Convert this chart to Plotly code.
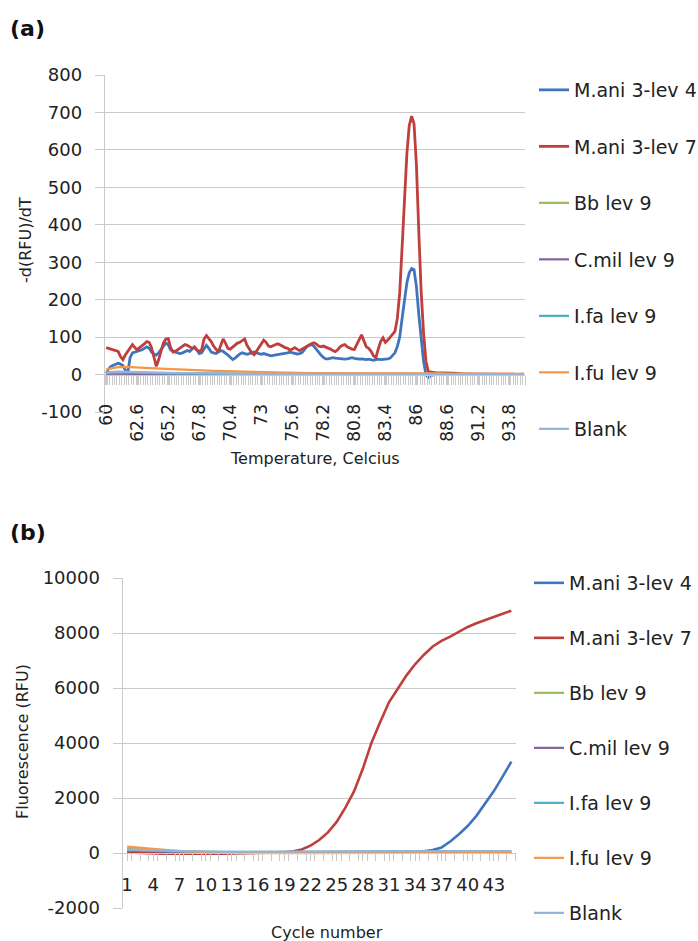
import plotly.graph_objects as go

# ---------------- data: panel (a) melt curves ----------------
temps = [
    60.0, 60.2, 60.4, 60.6, 60.8, 61.0, 61.2, 61.4, 61.6, 61.8, 62.0, 62.2, 62.4, 62.6, 62.8, 63.0, 63.2, 63.4, 63.6, 63.8, 64.0, 64.2, 64.4, 64.6, 64.8,
    65.0, 65.2, 65.4, 65.6, 65.8, 66.0, 66.2, 66.4, 66.6, 66.8, 67.0, 67.2, 67.4, 67.6, 67.8, 68.0, 68.2, 68.4, 68.6, 68.8, 69.0, 69.2, 69.4, 69.6, 69.8,
    70.0, 70.2, 70.4, 70.6, 70.8, 71.0, 71.2, 71.4, 71.6, 71.8, 72.0, 72.2, 72.4, 72.6, 72.8, 73.0, 73.2, 73.4, 73.6, 73.8, 74.0, 74.2, 74.4, 74.6, 74.8,
    75.0, 75.2, 75.4, 75.6, 75.8, 76.0, 76.2, 76.4, 76.6, 76.8, 77.0, 77.2, 77.4, 77.6, 77.8, 78.0, 78.2, 78.4, 78.6, 78.8, 79.0, 79.2, 79.4, 79.6, 79.8,
    80.0, 80.2, 80.4, 80.6, 80.8, 81.0, 81.2, 81.4, 81.6, 81.8, 82.0, 82.2, 82.4, 82.6, 82.8, 83.0, 83.2, 83.4, 83.6, 83.8, 84.0, 84.2, 84.4, 84.6, 84.8,
    85.0, 85.2, 85.4, 85.6, 85.8, 86.0, 86.2, 86.4, 86.6, 86.8, 87.0, 87.2, 87.4, 87.6, 87.8, 88.0, 88.2, 88.4, 88.6, 88.8, 89.0, 89.2, 89.4, 89.6, 89.8,
    90.0, 90.2, 90.4, 90.6, 90.8, 91.0, 91.2, 91.4, 91.6, 91.8, 92.0, 92.2, 92.4, 92.6, 92.8, 93.0, 93.2, 93.4, 93.6, 93.8, 94.0, 94.2, 94.4, 94.6, 94.8,
    95.0,
]

mani4_melt = [
    3, 15, 22, 25, 28, 30, 28, 24, 12, 3,
    45, 58, 60, 62, 62, 66, 70, 74, 70, 60,
    55, 52, 58, 68, 76, 84, 80, 66, 62, 60,
    58, 56, 58, 62, 64, 62, 68, 74, 66, 56,
    58, 68, 78, 70, 60, 58, 56, 60, 64, 62,
    58, 52, 46, 40, 44, 50, 55, 58, 56, 54,
    56, 58, 60, 58, 55, 54, 56, 54, 52, 50,
    51, 52, 54, 55, 56, 55, 58, 60, 58, 56,
    55, 56, 58, 66, 74, 78, 80, 76, 68, 58,
    52, 46, 42, 42, 44, 45, 44, 43, 42, 42,
    41, 42, 44, 45, 43, 42, 41, 42, 40, 40,
    41, 39, 38, 40, 41, 40, 40, 40, 42, 44,
    50, 58, 75, 100, 150, 200, 245, 272, 283, 280,
    235, 160, 90, 35, 0, -8, -3, 0, 1, 1,
    1, 1, 1, 0, 1, 1, 1, 1, 0, 0,
    1, 1, 0, 0, 1, 1, 0, 0, 0, 1,
    0, 0, 1, 1, 0, 0, 0, 0, 0, 0,
    0, 0, 0, 0, 0, 0,
]

mani7_melt = [
    72, 70, 68, 66, 66, 62, 48, 40, 52, 62,
    72, 80, 72, 66, 72, 76, 82, 88, 86, 72,
    48, 22, 40, 62, 85, 95, 96, 72, 60, 62,
    66, 72, 74, 80, 78, 75, 70, 72, 65, 62,
    66, 95, 104, 96, 88, 76, 68, 60, 78, 95,
    84, 70, 68, 74, 80, 84, 86, 90, 95, 78,
    66, 58, 53, 62, 72, 82, 92, 86, 76, 74,
    78, 80, 82, 78, 74, 72, 70, 65, 68, 72,
    68, 64, 68, 72, 75, 78, 82, 85, 82, 76,
    74, 76, 74, 70, 68, 64, 61, 66, 74, 78,
    80, 74, 70, 68, 67, 80, 96, 106, 90, 74,
    70, 62, 50, 45, 68, 88, 98, 86, 92, 100,
    106, 115, 150, 218, 340, 485, 590, 665, 690, 670,
    560, 380, 220, 110, 35, 8, 6, 6, 5, 5,
    5, 4, 4, 4, 3, 3, 3, 3, 3, 2,
    2, 2, 2, 3, 2, 2, 2, 2, 1, 1,
    1, 2, 1, 1, 1, 1, 1, 1, 1, 1,
    1, 1, 0, 1, 1, 1,
]

temps_coarse = [60, 61, 62, 63, 64, 65, 66, 67, 68, 69, 70, 71, 72, 73, 74, 75, 76, 77,
                78, 79, 80, 81, 82, 83, 84, 85, 86, 87, 88, 89, 90, 91, 92, 93, 94, 95]
bb_melt = [3, 4, 3, 3, 2, 2, 2, 1, 1, 1, 1, 1, 1, 1, 0, 1, 0, 0, 1, 0, 0, 1, 0, 0, 1, 1, 1, 0, 0, 0, 0, 0, 0, 1, 0, 0]
cmil_melt = [2, 3, 2, 2, 2, 1, 1, 1, 1, 1, 0, 1, 0, 0, 0, 1, 0, 0, 0, 0, 1, 0, 0, 0, 0, 1, 0, 0, 0, 0, 0, 0, 0, 0, 0, 0]
ifa_melt = [4, 6, 5, 4, 4, 3, 3, 3, 2, 2, 2, 2, 2, 1, 1, 1, 1, 1, 1, 1, 1, 1, 1, 1, 1, 2, 1, 1, 1, 1, 1, 1, 1, 1, 1, 1]
ifu_melt = [14, 20, 20, 18, 16, 15, 14, 12, 11, 10, 9, 8, 7, 7, 6, 5, 5, 4, 4, 4, 3, 3, 4, 3, 3, 4, 5, 3, 3, 2, 3, 2, 2, 3, 2, 2]
blank_melt = [6, 8, 7, 6, 5, 5, 4, 4, 3, 3, 3, 2, 2, 2, 2, 2, 1, 2, 1, 1, 1, 2, 1, 1, 2, 3, 2, 1, 1, 1, 1, 1, 1, 1, 1, 1]

temp_tick_values = [60, 62.6, 65.2, 67.8, 70.4, 73, 75.6, 78.2, 80.8, 83.4, 86, 88.6, 91.2, 93.8]
temp_tick_labels = ["60", "62.6", "65.2", "67.8", "70.4", "73", "75.6", "78.2", "80.8", "83.4", "86", "88.6", "91.2", "93.8"]
melt_y_tick_values = [-100, 0, 100, 200, 300, 400, 500, 600, 700, 800]
melt_y_tick_labels = ["-100", "0", "100", "200", "300", "400", "500", "600", "700", "800"]

# ---------------- data: panel (b) amplification curves ----------------
cycles = [1, 2, 3, 4, 5, 6, 7, 8, 9, 10, 11, 12, 13, 14, 15, 16, 17, 18, 19, 20, 21, 22, 23,
          24, 25, 26, 27, 28, 29, 30, 31, 32, 33, 34, 35, 36, 37, 38, 39, 40, 41, 42, 43, 44, 45]
mani4_amp = [90, 70, 55, 45, 40, 35, 30, 28, 25, 22, 20, 20, 20, 20, 20, 20, 20, 20, 20, 20, 20, 20, 20,
             20, 20, 20, 20, 20, 20, 20, 22, 25, 30, 40, 60, 110, 200, 420, 680, 980, 1350, 1780, 2250, 2780, 3320]
mani7_amp = [20, 5, -10, -20, -25, -25, -30, -30, -30, -30, -25, -25, -20, -15, -10, -5, 0, 10, 25, 60, 130, 270, 470,
             750, 1130, 1650, 2250, 3070, 4020, 4775, 5490, 5970, 6460, 6870, 7210, 7510, 7715, 7866, 8030, 8220, 8352, 8470, 8580, 8690, 8812]
bb_amp = [150, 130, 110, 95, 80, 68, 58, 50, 42, 36, 30, 25, 20, 16, 14, 12, 12, 12, 12, 13, 14, 15, 16,
          17, 18, 19, 20, 20, 21, 22, 22, 23, 24, 24, 25, 25, 26, 26, 27, 27, 28, 28, 29, 29, 30]
cmil_amp = [110, 95, 80, 68, 58, 48, 40, 34, 28, 22, 18, 14, 10, 8, 6, 5, 5, 5, 6, 7, 8, 9, 10,
            10, 11, 12, 12, 13, 14, 14, 15, 15, 16, 16, 17, 17, 18, 18, 19, 19, 20, 20, 21, 21, 22]
ifa_amp = [100, 90, 80, 72, 65, 58, 52, 48, 44, 40, 37, 34, 32, 31, 31, 32, 34, 36, 38, 40, 42, 44, 46,
           48, 50, 52, 53, 54, 55, 56, 57, 58, 59, 60, 61, 62, 62, 63, 64, 64, 65, 65, 66, 66, 67]
ifu_amp = [230, 200, 170, 140, 110, 90, 70, 55, 40, 30, 20, 10, 5, 0, -5, -5, -5, -5, -5, -5, -5, -5, -5,
           -5, -5, -5, -5, -5, -5, -5, -5, -5, -5, -5, -5, -5, -5, -5, 0, 0, 0, 5, 5, 10, 10]
blank_amp = [120, 110, 100, 90, 80, 72, 65, 60, 55, 50, 46, 42, 40, 38, 38, 40, 42, 44, 46, 48, 50, 52, 54,
             55, 56, 57, 58, 59, 60, 61, 62, 63, 64, 65, 66, 66, 67, 68, 68, 69, 70, 70, 71, 72, 72]

cycle_tick_values = [1, 4, 7, 10, 13, 16, 19, 22, 25, 28, 31, 34, 37, 40, 43]
cycle_tick_labels = ["1", "4", "7", "10", "13", "16", "19", "22", "25", "28", "31", "34", "37", "40", "43"]
amp_y_tick_values = [-2000, 0, 2000, 4000, 6000, 8000, 10000]
amp_y_tick_labels = ["-2000", "0", "2000", "4000", "6000", "8000", "10000"]

series_names = ["M.ani 3-lev 4", "M.ani 3-lev 7", "Bb lev 9", "C.mil lev 9", "I.fa lev 9", "I.fu lev 9", "Blank"]
series_colors = ["#3F75BE", "#BE3F3B", "#9BBB59", "#7F62A1", "#4BACC6", "#F79646", "#95B3D7"]

# ---------------- layout geometry (pixels) ----------------
W, H = 698, 941
FONT = "DejaVu Sans"
GRID = "#C9C9C9"
TXT = "#222222"


def fx(p):
    return p / W


def fy(p):
    return 1 - p / H


fig = go.Figure()

melt_x = [temps, temps, temps_coarse, temps_coarse, temps_coarse, temps_coarse, temps_coarse]
melt_y = [mani4_melt, mani7_melt, bb_melt, cmil_melt, ifa_melt, ifu_melt, blank_melt]
amp_y = [mani4_amp, mani7_amp, bb_amp, cmil_amp, ifa_amp, ifu_amp, blank_amp]

for i, name in enumerate(series_names):
    fig.add_trace(go.Scatter(
        x=melt_x[i], y=melt_y[i], mode="lines", name=name,
        line=dict(color=series_colors[i], width=2.8 if i < 2 else 2.2),
        xaxis="x", yaxis="y", legend="legend", legendgroup="a%d" % i,
    ))

for i, name in enumerate(series_names):
    fig.add_trace(go.Scatter(
        x=cycles, y=amp_y[i], mode="lines", name=name,
        line=dict(color=series_colors[i], width=2.6 if i < 2 else 2.2),
        xaxis="x2", yaxis="y2", legend="legend2", legendgroup="b%d" % i,
    ))

tickfont = dict(family=FONT, size=18, color=TXT)

fig.update_layout(
    width=W, height=H,
    margin=dict(l=0, r=0, t=0, b=0, autoexpand=False),
    paper_bgcolor="white", plot_bgcolor="white",
    showlegend=True,
    xaxis=dict(
        domain=[fx(105), fx(525)], anchor="free", position=fy(375),
        range=[59.9, 95.1], tickmode="array", tickvals=temp_tick_values, ticktext=temp_tick_labels,
        tickangle=-90, tickfont=dict(family=FONT, size=17, color=TXT),
        ticks="outside", ticklen=9, tickcolor=GRID, tickwidth=1,
        ticklabelstandoff=12, automargin=False,
        showline=True, linecolor=GRID, linewidth=1.4, showgrid=False, zeroline=False,
        minor=dict(ticks="outside", tickmode="linear", tick0=59.9, dtick=0.2, ticklen=9,
                   tickcolor=GRID, tickwidth=1, showgrid=False),
    ),
    yaxis=dict(
        domain=[fy(412), fy(75)], anchor="x", range=[-100, 800],
        tickmode="array", tickvals=melt_y_tick_values, ticktext=melt_y_tick_labels,
        tickfont=tickfont, ticks="outside", ticklen=9, tickcolor=GRID,
        ticklabelstandoff=9, automargin=False,
        showline=True, linecolor=GRID, linewidth=1.4, showgrid=True, gridcolor=GRID, gridwidth=1.4,
        zeroline=False,
    ),
    xaxis2=dict(
        domain=[fx(122.7), fx(515.7)], anchor="free", position=fy(853),
        range=[0.5, 45.5], tickmode="array", tickvals=cycle_tick_values, ticktext=cycle_tick_labels,
        tickangle=0, tickfont=tickfont, ticks="outside", ticklen=7, tickcolor=GRID,
        ticklabelstandoff=8, automargin=False,
        showline=True, linecolor=GRID, linewidth=1.4, showgrid=False, zeroline=False,
        minor=dict(ticks="outside", tickmode="linear", tick0=0.5, dtick=1, ticklen=7,
                   tickcolor=GRID, tickwidth=1, showgrid=False),
    ),
    yaxis2=dict(
        domain=[fy(908), fy(578)], anchor="x2", range=[-2000, 10000],
        tickmode="array", tickvals=amp_y_tick_values, ticktext=amp_y_tick_labels,
        tickfont=tickfont, ticks="outside", ticklen=9, tickcolor=GRID,
        ticklabelstandoff=9, automargin=False,
        showline=True, linecolor=GRID, linewidth=1.4, showgrid=True, gridcolor=GRID, gridwidth=1.4,
        zeroline=False,
    ),
    legend=dict(
        x=fx(534), xanchor="left", y=fy(71), yanchor="top",
        font=dict(family=FONT, size=19, color=TXT), tracegroupgap=28.8,
        bgcolor="rgba(0,0,0,0)", itemclick=False, itemdoubleclick=False,
    ),
    legend2=dict(
        x=fx(529), xanchor="left", y=fy(564), yanchor="top",
        font=dict(family=FONT, size=19, color=TXT), tracegroupgap=27.3,
        bgcolor="rgba(0,0,0,0)", itemclick=False, itemdoubleclick=False,
    ),
    annotations=[
        dict(text="<b>(a)</b>", x=fx(8), y=fy(28), xref="paper", yref="paper", xanchor="left", yanchor="middle",
             showarrow=False, font=dict(family=FONT, size=22, color="#111")),
        dict(text="<b>(b)</b>", x=fx(8), y=fy(532), xref="paper", yref="paper", xanchor="left", yanchor="middle",
             showarrow=False, font=dict(family=FONT, size=22, color="#111")),
        dict(text="-d(RFU)/dT", x=fx(25), y=fy(240), xref="paper", yref="paper", textangle=-90,
             xanchor="center", yanchor="middle", showarrow=False, font=dict(family=FONT, size=16, color=TXT)),
        dict(text="Temperature, Celcius", x=fx(315), y=fy(458), xref="paper", yref="paper",
             xanchor="center", yanchor="middle", showarrow=False, font=dict(family=FONT, size=16, color=TXT)),
        dict(text="Fluorescence (RFU)", x=fx(22), y=fy(742), xref="paper", yref="paper", textangle=-90,
             xanchor="center", yanchor="middle", showarrow=False, font=dict(family=FONT, size=16, color=TXT)),
        dict(text="Cycle number", x=fx(327), y=fy(932), xref="paper", yref="paper",
             xanchor="center", yanchor="middle", showarrow=False, font=dict(family=FONT, size=16, color=TXT)),
    ],
)

# remove the browser's default 8px page margin so the figure sits at the window origin
fig.write_html(
    "out.html",
    config={"displayModeBar": False},
    post_script="document.body.style.margin='0';document.body.style.overflow='hidden';",
)
